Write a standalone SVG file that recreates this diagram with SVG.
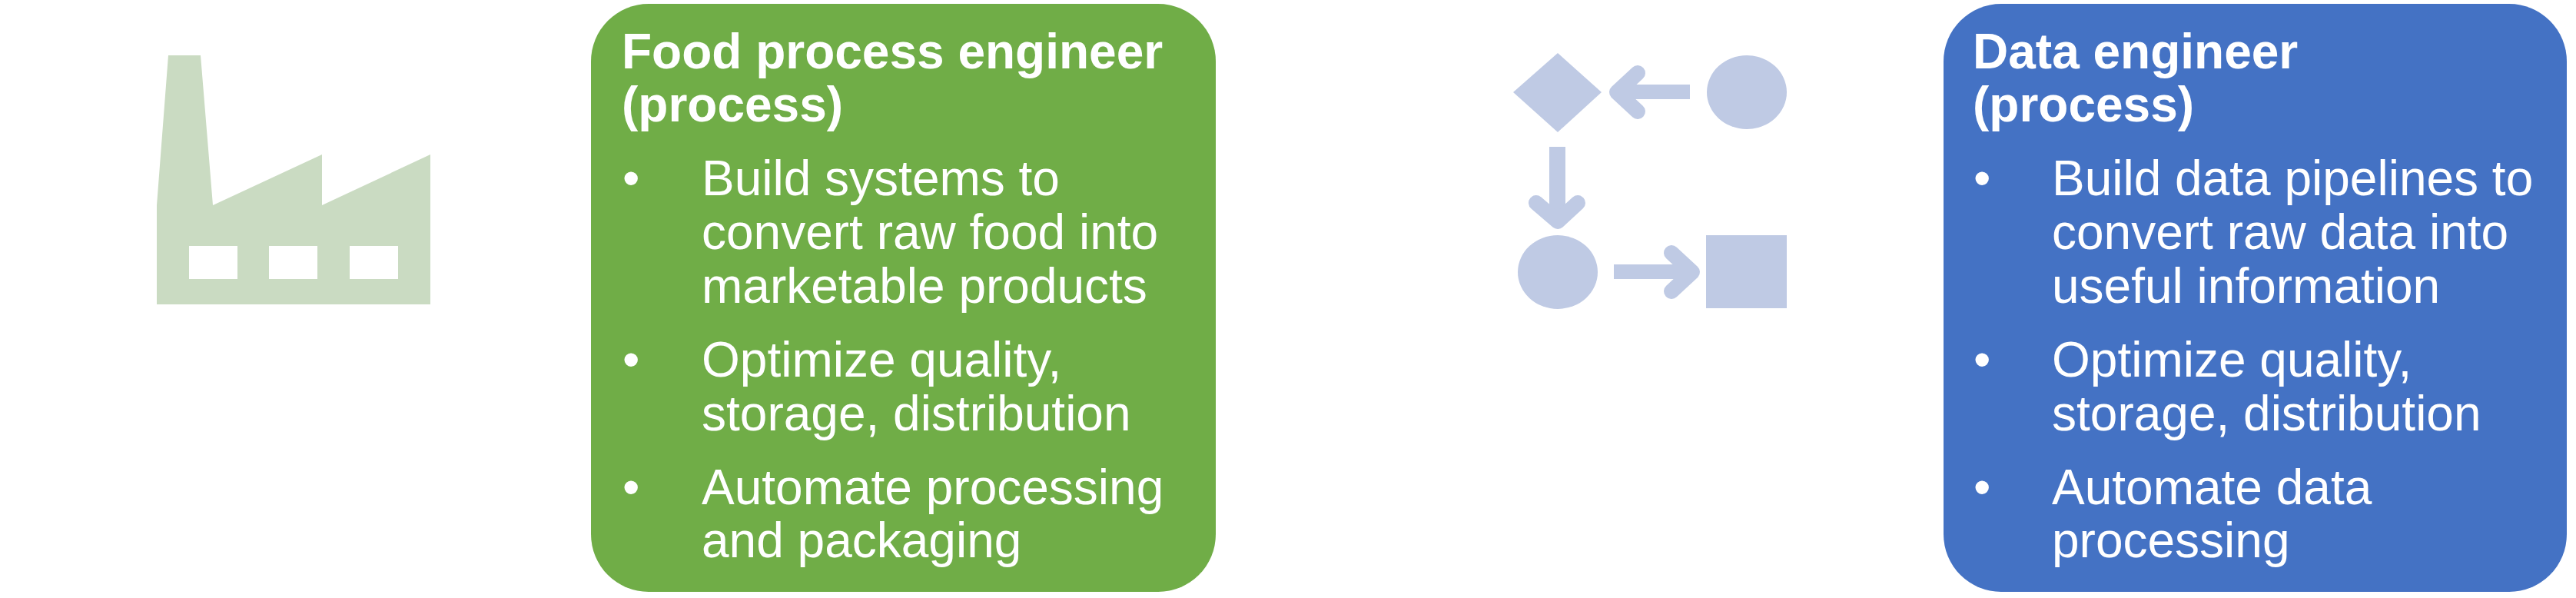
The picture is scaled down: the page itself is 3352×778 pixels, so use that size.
<svg xmlns="http://www.w3.org/2000/svg" width="3352" height="778" viewBox="0 0 3352 778">
<style>
.t{font-family:"Liberation Sans",Arial,sans-serif;font-size:64px;fill:#fff}
.b{font-weight:bold}
.icon1{fill:#CADBC2}
.icon2{fill:#BFCAE4}
.arrow{fill:none;stroke:#BFCAE4;stroke-width:20;stroke-linecap:round;stroke-linejoin:round}
.shaft{fill:#BFCAE4}
</style>
<rect width="3352" height="778" fill="#fff"/>
<g id="factory">
<path class="icon1" fill-rule="evenodd" d="M219 72H261L277 267L419 201V267L560 201V396H204V267ZM246 320V363H309V320ZM350 320V363H413V320ZM455 320V363H518V320Z"/>
</g>
<g id="food-engineer">
<rect x="769" y="5" width="813" height="765" rx="75" fill="#70AD47"/>
<text class="t b" x="809" y="89">Food process engineer</text>
<text class="t b" x="809" y="158">(process)</text>
<text class="t" x="810" y="254">•</text>
<text class="t" x="913" y="254">Build systems to</text>
<text class="t" x="913" y="324">convert raw food into</text>
<text class="t" x="913" y="394">marketable products</text>
<text class="t" x="810" y="490">•</text>
<text class="t" x="913" y="490">Optimize quality,</text>
<text class="t" x="913" y="560">storage, distribution</text>
<text class="t" x="810" y="656">•</text>
<text class="t" x="913" y="656">Automate processing</text>
<text class="t" x="913" y="725">and packaging</text>
</g>
<g id="flow-diamond"><path class="icon2" d="M2027 69L2084 120L2027 172L1969 120Z"/></g>
<g id="flow-start"><ellipse class="icon2" cx="2273" cy="120" rx="52" ry="48"/></g>
<g id="flow-circle"><ellipse class="icon2" cx="2027" cy="354" rx="52" ry="48"/></g>
<g id="flow-square"><rect class="icon2" x="2220" y="306" width="105" height="95"/></g>
<g id="connectors">
<rect class="shaft" x="2110" y="110" width="89" height="19"/>
<path class="arrow" d="M2131 95L2104 120L2131 145"/>
<rect class="shaft" x="2016" y="191" width="21" height="90"/>
<path class="arrow" d="M1999 264L2027 288L2053 264"/>
<rect class="shaft" x="2100" y="344" width="90" height="19"/>
<path class="arrow" d="M2175 329L2202 354L2175 379"/>
</g>
<g id="data-engineer">
<rect x="2529" y="5" width="811" height="765" rx="75" fill="#4472C4"/>
<text class="t b" x="2567" y="89">Data engineer</text>
<text class="t b" x="2567" y="158">(process)</text>
<text class="t" x="2568" y="254">•</text>
<text class="t" x="2670" y="254">Build data pipelines to</text>
<text class="t" x="2670" y="324">convert raw data into</text>
<text class="t" x="2670" y="394">useful information</text>
<text class="t" x="2568" y="490">•</text>
<text class="t" x="2670" y="490">Optimize quality,</text>
<text class="t" x="2670" y="560">storage, distribution</text>
<text class="t" x="2568" y="656">•</text>
<text class="t" x="2670" y="656">Automate data</text>
<text class="t" x="2670" y="725">processing</text>
</g>
</svg>
